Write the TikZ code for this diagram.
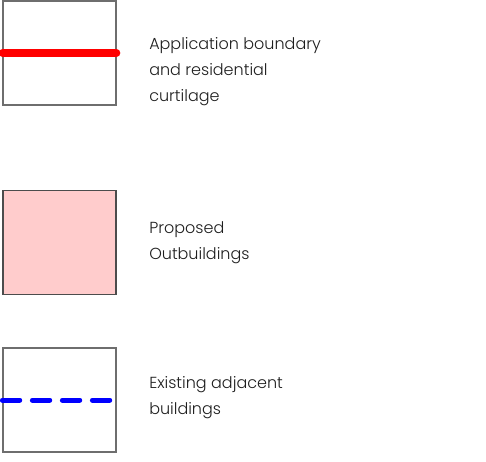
\documentclass[tikz,border=0pt]{standalone}
\usepackage{fontspec}
\setmainfont{Poppins Light}
\usepackage{tikz}
\usetikzlibrary{positioning}
\definecolor{boundarycolor}{RGB}{255, 0, 0}
\definecolor{outbuildcolor}{RGB}{255, 204, 204}
\definecolor{existcolor}{RGB}{0, 0, 255}
\definecolor{framecolor}{RGB}{110, 110, 110}
\definecolor{textcolor}{RGB}{30, 30, 30}

\begin{document}
\begin{tikzpicture}[
    x=0.75pt, y=-0.75pt,
    legendbox/.style={rectangle, draw=framecolor, line width=0.9pt, minimum width=84.75pt, minimum height=78pt, inner sep=0pt},
    outbuild/.style={legendbox, draw=black!70, fill=outbuildcolor},
    boundary/.style={boundarycolor, line width=5.6pt, line cap=round},
    existing/.style={existcolor, line width=3.75pt, line cap=round, dash pattern=on 13pt off 9.5pt},
    legendtext/.style={anchor=west, align=left, inner sep=0pt, text=textcolor, font=\fontsize{12}{19.5}\selectfont},
]
\useasboundingbox (0,0) rectangle (486,461);

% Application boundary
\node[legendbox] (bndbox) at (59.5, 53) {};
\draw[boundary] (bndbox.west) -- (bndbox.east);
\node[legendtext] (bndtext) at (149, 71.5) {Application boundary\\and residential\\curtilage};

% Proposed outbuildings
\node[outbuild] (outbox) at (59.5, 242.5) {};
\node[legendtext] (outtext) at (149, 242.5) {Proposed\\Outbuildings};

% Existing adjacent buildings
\node[legendbox] (existbox) at (59.5, 400) {};
\draw[existing] (existbox.west) -- (existbox.east);
\node[legendtext] (existtext) at (149, 397.5) {Existing adjacent\\buildings};

\end{tikzpicture}
\end{document}
